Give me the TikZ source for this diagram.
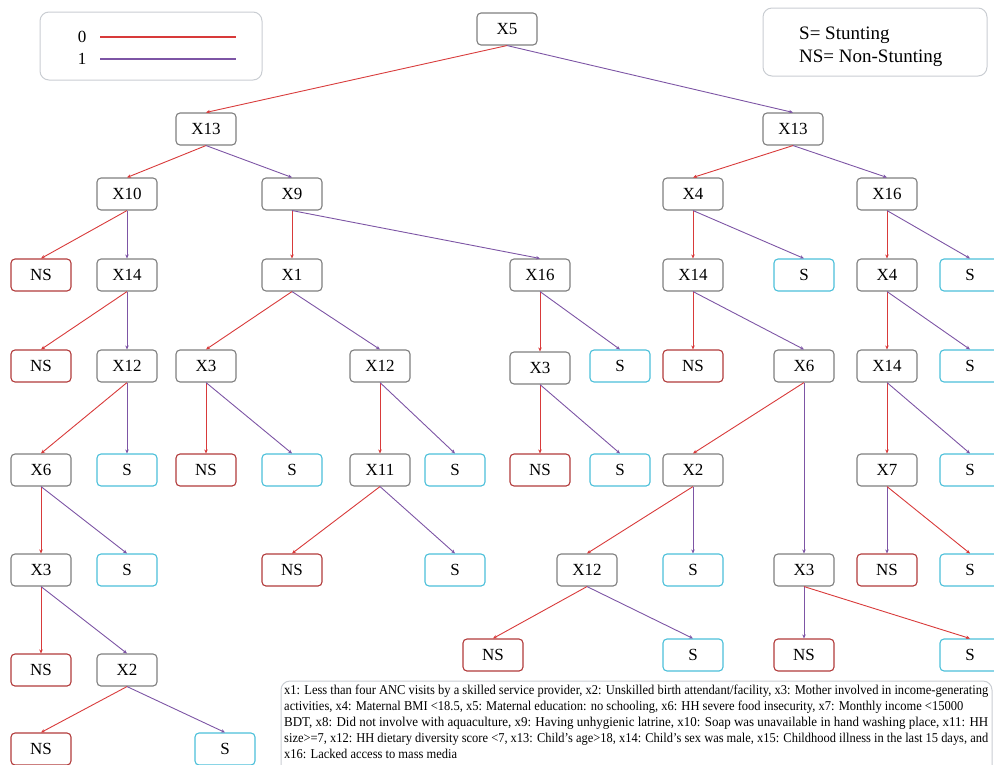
\documentclass[tikz,border=0pt]{standalone}
\usepackage{fontspec}
\setmainfont{Liberation Serif}
\usepackage{graphicx}
\usetikzlibrary{arrows.meta}
\definecolor{ered}{HTML}{D83A3A}
\definecolor{epur}{HTML}{7D55A5}
\definecolor{nsc}{HTML}{B23B3B}
\definecolor{sc}{HTML}{4CC0DA}
\definecolor{gc}{HTML}{7F7F7F}
\definecolor{lg}{HTML}{C9CDD2}
\tikzset{
 box/.style={draw=gc, line width=1.1pt, rounded corners=4pt, minimum width=60pt, minimum height=32pt, inner sep=0pt, font=\fontsize{17}{17}\selectfont, fill=white},
 nsbox/.style={box, draw=nsc},
 sbox/.style={box, draw=sc},
 zero/.style={draw=ered, line width=0.9pt, -{Stealth[length=4pt,width=3.5pt]}},
 one/.style={draw=epur, line width=0.9pt, -{Stealth[length=4pt,width=3.5pt]}},
 legbox/.style={draw=lg, line width=1pt, rounded corners=9pt},
 legtxt/.style={font=\fontsize{17}{17}\selectfont, inner sep=0pt},
 legtxtb/.style={font=\fontsize{19}{19}\selectfont, inner sep=0pt, anchor=base west},
 tl/.style={anchor=base west, inner sep=0pt}
}
\newsavebox\lineone
\newcommand\tfont{\fontsize{13.5}{16}\selectfont}
\newcommand\Lone{x1: Less than four ANC visits by a skilled service provider, x2: Unskilled birth attendant/facility, x3: Mother involved in income-generating}
\begin{document}
\sbox\lineone{\tfont\Lone}
\pgfmathsetmacro\hsc{704/\the\wd\lineone}
\newcommand\jline[1]{\resizebox{704pt}{\height}{\tfont #1}}
\newcommand\tline[1]{\scalebox{\hsc}[1]{\tfont #1}}
\begin{tikzpicture}[x=1pt,y=-1pt]
\useasboundingbox (0,0) rectangle (994,764);
% legends
\draw[legbox] (40,12) rectangle (262,80);
\node[legtxt] (l0) at (82,37) {0};
\node[legtxt] (l1) at (82,59) {1};
\coordinate (l0a) at (100,37); \coordinate (l0b) at (236,37);
\coordinate (l1a) at (100,59); \coordinate (l1b) at (236,59);
\draw[draw=ered, line width=1.3pt] (l0a) -- (l0b);
\draw[draw=epur, line width=1.3pt] (l1a) -- (l1b);
\draw[legbox] (763,8) rectangle (987,76);
\node[legtxtb] (lgS) at (799,39) {S= Stunting};
\node[legtxtb] (lgNS) at (799,62) {NS= Non-Stunting};
% bottom text
\draw[legbox] (281,681) rectangle (992,800);
\node[tl] (t1) at (284,694) {\jline{\Lone}};
\node[tl] (t2) at (284,710) {\tline{activities, x4: Maternal BMI <18.5, x5: Maternal education: no schooling, x6: HH severe food insecurity, x7: Monthly income <15000}};
\node[tl] (t3) at (284,726) {\jline{BDT, x8: Did not involve with aquaculture, x9: Having unhygienic latrine, x10: Soap was unavailable in hand washing place, x11: HH}};
\node[tl] (t4) at (284,742) {\jline{size>=7, x12: HH dietary diversity score <7, x13: Child's age>18, x14: Child's sex was male, x15: Childhood illness in the last 15 days, and}};
\node[tl] (t5) at (284,758) {\tline{x16: Lacked access to mass media}};
% tree nodes
\node[box] (x5) at (507,29) {X5};
\node[box] (a13) at (206,129) {X13};
\node[box] (b13) at (793,129) {X13};
\node[box] (a10) at (127,194) {X10};
\node[box] (a9) at (292,194) {X9};
\node[box] (b4) at (693,194) {X4};
\node[box] (b16) at (887,194) {X16};
% row 4
\node[nsbox] (l1n) at (41,275) {NS};
\node[box] (a14) at (127,275) {X14};
\node[box] (a1) at (292,275) {X1};
\node[box] (a16) at (540,275) {X16};
\node[box] (b14) at (693,275) {X14};
\node[sbox] (r1) at (804,275) {S};
\node[box] (c4) at (887,275) {X4};
\node[sbox] (r2) at (970,275) {S};
% row 5
\node[nsbox] (l2) at (41,366) {NS};
\node[box] (a12) at (127,366) {X12};
\node[box] (a3) at (206,366) {X3};
\node[box] (a12b) at (380,366) {X12};
\node[box] (a3b) at (540,368) {X3};
\node[sbox] (s3) at (620,366) {S};
\node[nsbox] (n3) at (693,366) {NS};
\node[box] (b6) at (804,366) {X6};
\node[box] (c14) at (887,366) {X14};
\node[sbox] (r3) at (970,366) {S};
% row 6
\node[box] (a6) at (41,470) {X6};
\node[sbox] (s4) at (127,470) {S};
\node[nsbox] (n4) at (206,470) {NS};
\node[sbox] (s5) at (292,470) {S};
\node[box] (a11) at (380,470) {X11};
\node[sbox] (s6) at (455,470) {S};
\node[nsbox] (n5) at (540,470) {NS};
\node[sbox] (s7) at (620,470) {S};
\node[box] (b2) at (693,470) {X2};
\node[box] (c7) at (887,470) {X7};
\node[sbox] (r4) at (970,470) {S};
% row 7
\node[box] (a3c) at (41,570) {X3};
\node[sbox] (s8) at (127,570) {S};
\node[nsbox] (n6) at (292,570) {NS};
\node[sbox] (s9) at (455,570) {S};
\node[box] (b12) at (587,570) {X12};
\node[sbox] (s10) at (693,570) {S};
\node[box] (b3) at (804,570) {X3};
\node[nsbox] (n7) at (887,570) {NS};
\node[sbox] (r5) at (970,570) {S};
% row 8
\node[nsbox] (n8) at (41,670) {NS};
\node[box] (a2) at (127,670) {X2};
\node[nsbox] (n9) at (493,655) {NS};
\node[sbox] (s11) at (693,655) {S};
\node[nsbox] (n10) at (804,655) {NS};
\node[sbox] (r6) at (970,655) {S};
% row 9
\node[nsbox] (n11) at (41,749) {NS};
\node[sbox] (s12) at (225,749) {S};
% edges
\draw[zero] (x5.south) -- (a13.north);
\draw[one] (x5.south) -- (b13.north);
\draw[zero] (a13.south) -- (a10.north);
\draw[one] (a13.south) -- (a9.north);
\draw[zero] (a10.south) -- (l1n.north);
\draw[one] (a10.south) -- (a14.north);
\draw[zero] (a14.south) -- (l2.north);
\draw[one] (a14.south) -- (a12.north);
\draw[zero] (a12.south) -- (a6.north);
\draw[one] (a12.south) -- (s4.north);
\draw[zero] (a6.south) -- (a3c.north);
\draw[one] (a6.south) -- (s8.north);
\draw[zero] (a3c.south) -- (n8.north);
\draw[one] (a3c.south) -- (a2.north);
\draw[zero] (a2.south) -- (n11.north);
\draw[one] (a2.south) -- (s12.north);
\draw[zero] (a9.south) -- (a1.north);
\draw[one] (a9.south) -- (a16.north);
\draw[zero] (a1.south) -- (a3.north);
\draw[one] (a1.south) -- (a12b.north);
\draw[zero] (a3.south) -- (n4.north);
\draw[one] (a3.south) -- (s5.north);
\draw[zero] (a12b.south) -- (a11.north);
\draw[one] (a12b.south) -- (s6.north);
\draw[zero] (a11.south) -- (n6.north);
\draw[one] (a11.south) -- (s9.north);
\draw[zero] (a16.south) -- (a3b.north);
\draw[one] (a16.south) -- (s3.north);
\draw[zero] (a3b.south) -- (n5.north);
\draw[one] (a3b.south) -- (s7.north);
\draw[zero] (b13.south) -- (b4.north);
\draw[one] (b13.south) -- (b16.north);
\draw[zero] (b4.south) -- (b14.north);
\draw[one] (b4.south) -- (r1.north);
\draw[zero] (b14.south) -- (n3.north);
\draw[one] (b14.south) -- (b6.north);
\draw[zero] (b6.south) -- (b2.north);
\draw[one] (b6.south) -- (b3.north);
\draw[zero] (b2.south) -- (b12.north);
\draw[one] (b2.south) -- (s10.north);
\draw[zero] (b12.south) -- (n9.north);
\draw[one] (b12.south) -- (s11.north);
\draw[one] (b3.south) -- (n10.north);
\draw[zero] (b3.south) -- (r6.north);
\draw[zero] (b16.south) -- (c4.north);
\draw[one] (b16.south) -- (r2.north);
\draw[zero] (c4.south) -- (c14.north);
\draw[one] (c4.south) -- (r3.north);
\draw[zero] (c14.south) -- (c7.north);
\draw[one] (c14.south) -- (r4.north);
\draw[one] (c7.south) -- (n7.north);
\draw[zero] (c7.south) -- (r5.north);
\end{tikzpicture}
\end{document}
